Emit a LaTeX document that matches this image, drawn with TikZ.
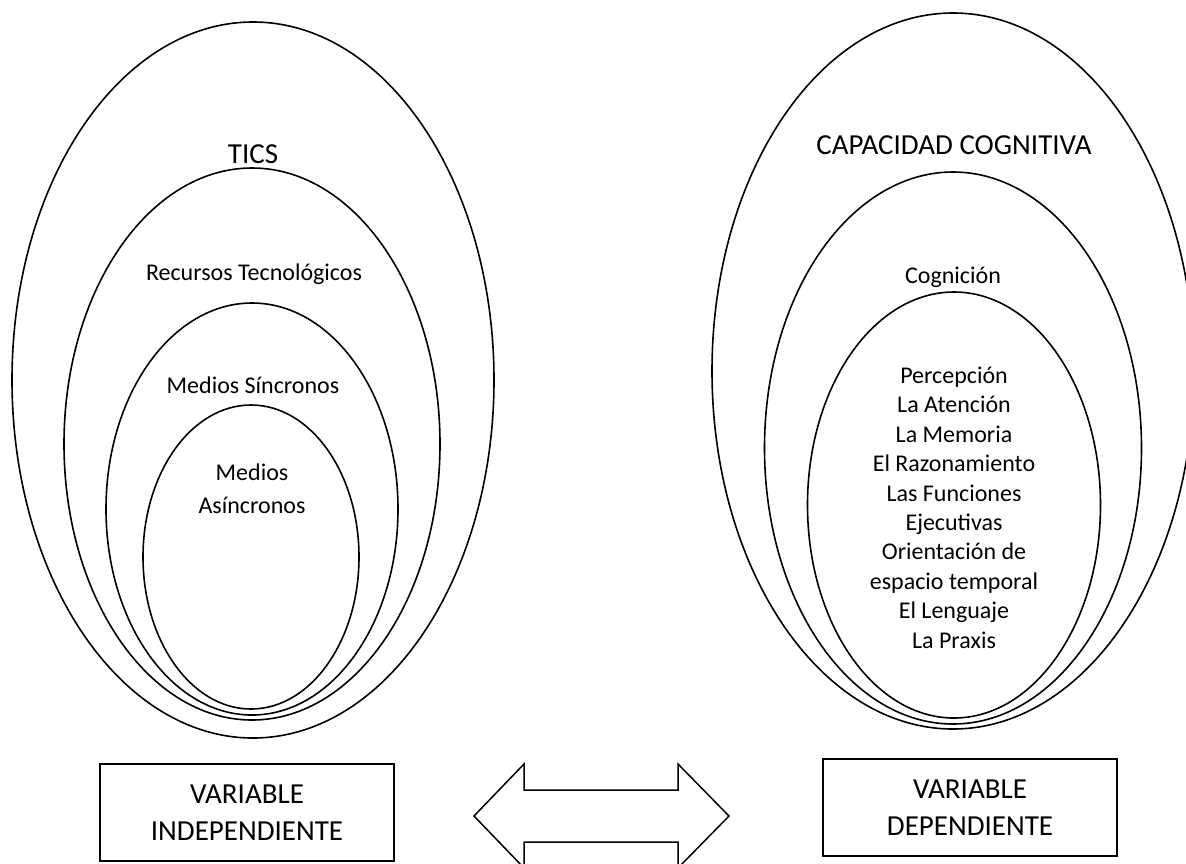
\documentclass[tikz,border=0pt]{standalone}
\usepackage{fontspec}
\setmainfont{Carlito}
\usepackage{tikz}
\usetikzlibrary{shapes.geometric}
\tikzset{capa/.style = {draw, ellipse, line width=1.6pt, inner sep=0pt}}
\tikzset{etiqueta/.style = {anchor=base, inner sep=0pt, align=center, font=\fontsize{24}{29.4}\selectfont}}
\tikzset{titulo/.style = {anchor=base, inner sep=0pt, font=\fontsize{29}{36}\selectfont}}
\tikzset{varbox/.style = {draw, line width=2pt, minimum width=294, minimum height=97, inner sep=0pt, align=center, font=\fontsize{29}{36.5}\selectfont}}

\begin{document}
\begin{tikzpicture}[x=1pt, y=-1pt]
\useasboundingbox (0,0) rectangle (1186,863);

\node[capa, minimum width=482, minimum height=716] (tics) at (253,380) {};
\node[capa, minimum width=376, minimum height=552] (recursos) at (252,444) {};
\node[capa, minimum width=292, minimum height=412] (sincronos) at (252,509) {};
\node[capa, minimum width=216, minimum height=304] (asincronos) at (251,557) {};
\node[titulo] (ticslbl) at (253,163) {TICS};
\node[etiqueta] (recursoslbl) at (254,280) {Recursos Tecnológicos};
\node[etiqueta] (sincronoslbl) at (253,393) {Medios Síncronos};
\node[etiqueta, font=\fontsize{24}{33}\selectfont] (asincronoslbl) at (252,513) {Medios\\Asíncronos};

\node[capa, minimum width=482, minimum height=716] (capacidad) at (953,371) {};
\node[capa, minimum width=377, minimum height=552] (cognicion) at (953,448) {};
\node[capa, minimum width=293, minimum height=426] (procesos) at (954,505) {};
\node[titulo] (capacidadlbl) at (954,154) {CAPACIDAD COGNITIVA};
\node[etiqueta] (cognicionlbl) at (953,283) {Cognición};
\node[etiqueta] (procesoslbl) at (954,648) {Percepción\\La Atención\\La Memoria\\El Razonamiento\\Las Funciones\\Ejecutivas\\Orientación de\\espacio temporal\\El Lenguaje\\La Praxis};

\node[varbox] (independiente) at (247,812.5) {VARIABLE\\INDEPENDIENTE};
\node[varbox] (dependiente) at (970,807.5) {VARIABLE\\DEPENDIENTE};

\draw[line width=1.5pt, line join=miter] (474,816) -- (524,764) -- (524,790) -- (678,790) -- (678,764) -- (729,816)
  -- (678,868) -- (678,842) -- (524,842) -- (524,868) -- cycle;

\end{tikzpicture}
\end{document}
